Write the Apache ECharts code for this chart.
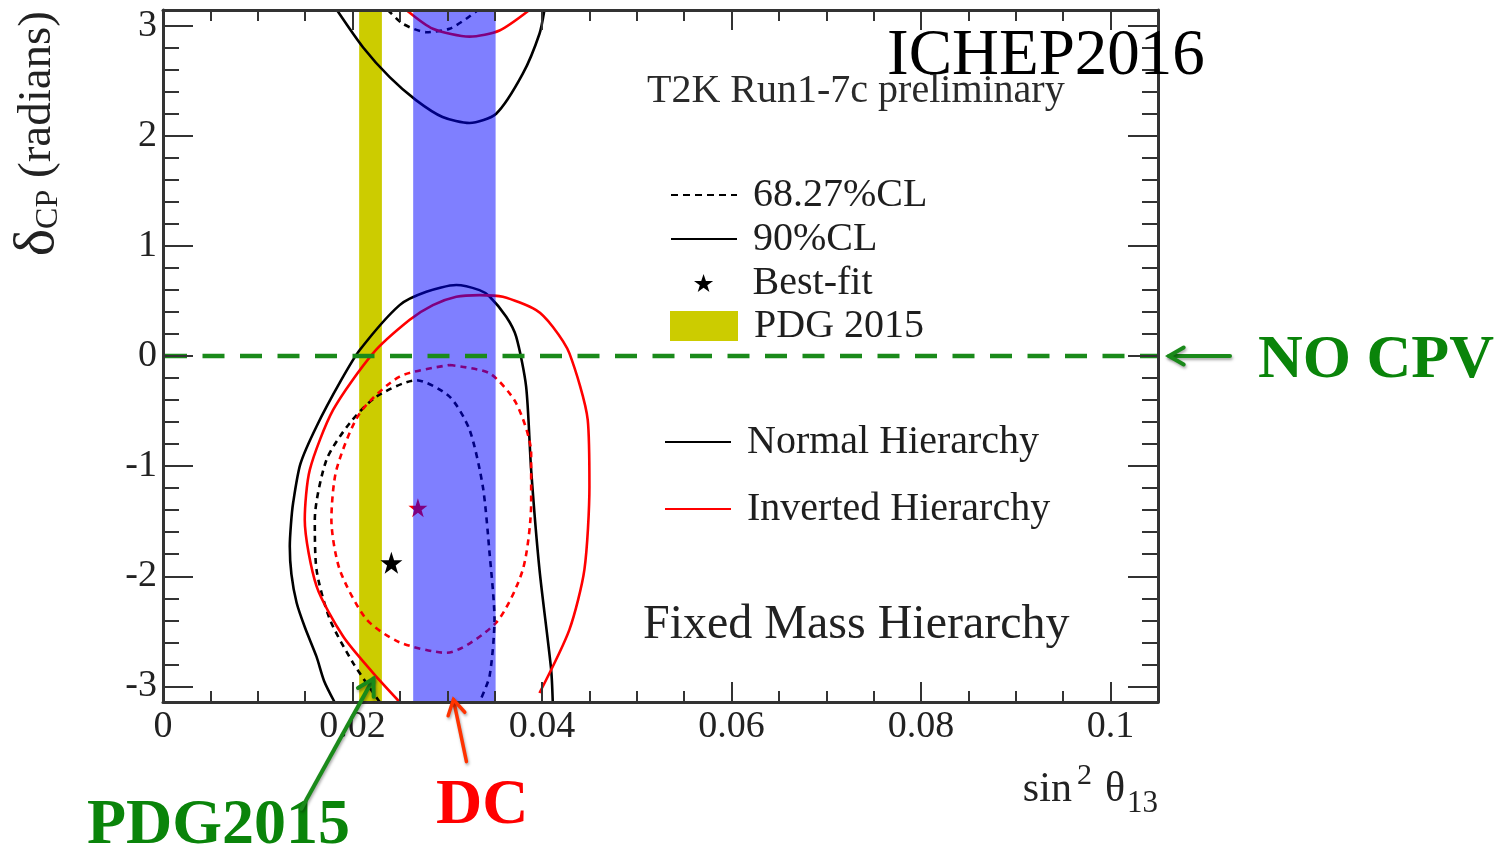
<!DOCTYPE html>
<html>
<head>
<meta charset="utf-8">
<script src="https://cdn.jsdelivr.net/npm/echarts@6/dist/echarts.min.js"></script>
<style>
  html, body { margin: 0; padding: 0; background: #ffffff; }
  #chart { width: 1511px; height: 850px; }
</style>
</head>
<body>
<div id="chart"></div>
<script>
// T2K Run1-7c: delta_CP versus sin^2(theta13), fixed mass hierarchy contours

const X_MIN = 0, X_MAX = 0.105;
const Y_MIN = -Math.PI, Y_MAX = Math.PI;

const xTickValues = [0, 0.02, 0.04, 0.06, 0.08, 0.1];
const yTickValues = [-3, -2, -1, 0, 1, 2, 3];

// Normal hierarchy, 90% CL (solid black); the upper piece wraps around delta_CP = +-pi
const nh90Lower = [
  [0.0181, -3.1416], [0.0170, -2.95], [0.0162, -2.73], [0.0150, -2.47], [0.0141, -2.24],
  [0.01355, -1.98], [0.01338, -1.73], [0.01350, -1.53], [0.01373, -1.335], [0.01450, -0.98],
  [0.0162, -0.64], [0.0188, -0.22], [0.02076, 0.054], [0.02497, 0.462], [0.02779, 0.583],
  [0.03095, 0.644], [0.0334, 0.598], [0.03446, 0.54], [0.03622, 0.356], [0.03727, 0.175],
  [0.03832, -0.278], [0.03885, -1.034], [0.03973, -1.94], [0.04096, -2.847], [0.04113, -3.1416]
];
const nh90Upper = [
  [0.01835, 3.1416], [0.0211, 2.804], [0.02392, 2.532], [0.02673, 2.321], [0.0295, 2.17],
  [0.03235, 2.115], [0.03516, 2.2], [0.03797, 2.563], [0.03973, 2.926], [0.04025, 3.1416]
];

// Normal hierarchy, 68.27% CL (dashed black)
const nh68Lower = [
  [0.02287, -3.1416], [0.02005, -2.786], [0.0176, -2.39], [0.0162, -1.94], [0.01602, -1.487],
  [0.01725, -0.943], [0.0197, -0.61], [0.02252, -0.369], [0.02673, -0.22], [0.03024, -0.369],
  [0.03235, -0.67], [0.03375, -1.185], [0.03446, -1.789], [0.03498, -2.39], [0.03446, -2.907],
  [0.0334, -3.1416]
];
const nh68Upper = [
  [0.02374, 3.1416], [0.02532, 3.016], [0.02779, 2.94], [0.03024, 2.971], [0.032, 3.062],
  [0.03323, 3.1416]
];

// Inverted hierarchy, 90% CL (solid red)
const ih90Lower = [
  [0.02497, -3.1416], [0.02216, -2.877], [0.019, -2.545], [0.0162, -2.09], [0.01496, -1.487],
  [0.01549, -1.034], [0.01795, -0.49], [0.02216, 0.024], [0.026, 0.326], [0.02848, 0.462],
  [0.03095, 0.538], [0.0334, 0.553], [0.03586, 0.538], [0.03938, 0.417], [0.04113, 0.266],
  [0.04289, 0.024], [0.04482, -0.58], [0.045, -1.185], [0.04447, -1.94], [0.04289, -2.484],
  [0.03973, -3.06]
];
const ih90Upper = [
  [0.02568, 3.1416], [0.02848, 2.971], [0.03235, 2.9], [0.03551, 2.956], [0.03867, 3.1416]
];

// Inverted hierarchy, 68.27% CL (dashed red, closed)
const ih68 = [
  [0.03024, -0.082], [0.03446, -0.157], [0.03727, -0.429], [0.03885, -0.882], [0.03885, -1.335],
  [0.03797, -1.94], [0.03516, -2.42], [0.0299, -2.695], [0.02497, -2.6], [0.02146, -2.39],
  [0.01865, -1.94], [0.01777, -1.487], [0.0183, -1.034], [0.02076, -0.52], [0.02497, -0.187],
  [0.03024, -0.082]
];

// Best-fit points
const nhBestFit = [[0.0241, -1.878]];
const ihBestFit = [[0.0269, -1.378]];

// Reactor constraints on sin^2(theta13)
const pdg2015Band = [0.0207, 0.0231];
const dcBand = [0.0264, 0.0351];

// CP-conserving reference
const noCpvLevel = 0;

const SERIF = "'Liberation Serif', 'DejaVu Serif', serif";
const STAR = 'path://M50,0 L61.8,35.1 L98.1,35.1 L68.8,56.7 L79.4,90.5 L50,69.1 L20.6,90.5 L31.2,56.7 L1.9,35.1 L38.2,35.1 Z';
const GREEN = '#0a840a';

function minorValues(lo, hi, step) {
  const out = [];
  const n = Math.round((hi - lo) / step);
  for (let i = 0; i <= n; i++) out.push(+(lo + i * step).toFixed(6));
  return out;
}
const xMinorTicks = minorValues(0, 0.105, 0.005);
const yMinorTicks = minorValues(-3, 3, 0.2);

const tickLine = { color: '#333', width: 2 };
const frameLine = { color: '#333', width: 3 };
const labelFont = { fontFamily: SERIF, fontSize: 38, color: '#222' };

function makeAxis(position, ticks, len, withLabels, withLine, extra) {
  const a = {
    type: 'value', position, z: 10,
    splitLine: { show: false },
    axisLine: { show: withLine, onZero: false, lineStyle: frameLine },
    axisTick: { show: true, inside: true, length: len, customValues: ticks, lineStyle: tickLine },
    axisLabel: withLabels ? Object.assign({ show: true, customValues: ticks }, labelFont) : { show: false }
  };
  return Object.assign(a, extra);
}

const xRange = { min: X_MIN, max: X_MAX };
const yRange = { min: Y_MIN, max: Y_MAX };

const xAxes = [
  makeAxis('bottom', xTickValues, 20, true, true, Object.assign({
    name: '{a|sin}{sup|2}{a|θ}{sub|13}',
    nameLocation: 'end', nameGap: 0,
    nameTextStyle: {
      align: 'right', verticalAlign: 'top', padding: [59, 0, 0, 0],
      fontFamily: SERIF, fontSize: 40, color: '#222',
      rich: {
        a: { fontFamily: SERIF, fontSize: 42, color: '#222', lineHeight: 58 },
        sup: { fontFamily: SERIF, fontSize: 30, color: '#222', verticalAlign: 'top', lineHeight: 28, padding: [0, 13, 0, 5] },
        sub: { fontFamily: SERIF, fontSize: 31, color: '#222', verticalAlign: 'bottom', lineHeight: 30, padding: [0, 0, 0, 2] }
      }
    },
    axisLabel: Object.assign({ show: true, customValues: xTickValues, margin: 6 }, labelFont)
  }, xRange)),
  makeAxis('bottom', xMinorTicks, 11, false, false, Object.assign({}, xRange)),
  makeAxis('top', xTickValues, 20, false, true, Object.assign({}, xRange)),
  makeAxis('top', xMinorTicks, 11, false, false, Object.assign({}, xRange))
];

const yAxes = [
  makeAxis('left', yTickValues, 30, true, true, Object.assign({
    name: '{d|δ}{s|CP}{r| (radians)}',
    nameLocation: 'end', nameGap: -1, nameRotate: 90,
    nameTextStyle: {
      align: 'right', verticalAlign: 'bottom', padding: [0, 0, 98, 0],
      fontFamily: SERIF, fontSize: 47, color: '#222',
      rich: {
        d: { fontFamily: SERIF, fontSize: 58, color: '#222', lineHeight: 54 },
        r: { fontFamily: SERIF, fontSize: 47, color: '#222', lineHeight: 54 },
        s: { fontFamily: SERIF, fontSize: 32, color: '#222', verticalAlign: 'bottom', lineHeight: 32, padding: [0, 0, 0, 0] }
      }
    },
    axisLabel: Object.assign({ show: true, customValues: yTickValues, margin: 6 }, labelFont)
  }, yRange)),
  makeAxis('left', yMinorTicks, 16, false, false, Object.assign({}, yRange)),
  makeAxis('right', yTickValues, 30, false, true, Object.assign({}, yRange)),
  makeAxis('right', yMinorTicks, 16, false, false, Object.assign({}, yRange))
];

function contour(name, data, color, dashed) {
  return {
    name, type: 'line', data, z: 3, silent: true,
    symbol: 'none', showSymbol: false, smooth: 0.25, clip: true,
    lineStyle: { color, width: 2.6, type: dashed ? [6, 5] : 'solid' },
    itemStyle: { color }
  };
}

function legendOnly(name, color, dashed) {
  return {
    name, type: 'line', data: [], symbol: 'none', showSymbol: false,
    lineStyle: { color, width: 2.5, type: dashed ? [7, 5] : 'solid' },
    itemStyle: { color }
  };
}

const series = [
  {
    name: 'PDG 2015', type: 'line', data: [], z: 1, silent: true,
    itemStyle: { color: '#cccc00' },
    markArea: {
      silent: true, z: 1,
      itemStyle: { color: '#cccc00', opacity: 1 },
      data: [[{ xAxis: pdg2015Band[0] }, { xAxis: pdg2015Band[1] }]]
    }
  },
  contour('NH 90% lower', nh90Lower, '#000000', false),
  contour('NH 90% upper', nh90Upper, '#000000', false),
  contour('NH 68% lower', nh68Lower, '#000000', true),
  contour('NH 68% upper', nh68Upper, '#000000', true),
  contour('IH 90% lower', ih90Lower, '#ff0000', false),
  contour('IH 90% upper', ih90Upper, '#ff0000', false),
  contour('IH 68%', ih68, '#ff0000', true),
  {
    name: 'NH best fit', type: 'scatter', data: nhBestFit, z: 4, silent: true,
    symbol: STAR, symbolSize: 22, itemStyle: { color: '#000000', opacity: 1 }
  },
  {
    name: 'IH best fit', type: 'scatter', data: ihBestFit, z: 4, silent: true,
    symbol: STAR, symbolSize: 19, itemStyle: { color: '#ff0000', opacity: 1 }
  },
  {
    name: 'Double Chooz', type: 'line', data: [], z: 5, silent: true,
    markArea: {
      silent: true, z: 5,
      itemStyle: { color: 'rgba(0,0,255,0.5)' },
      data: [[{ xAxis: dcBand[0] }, { xAxis: dcBand[1] }]]
    }
  },
  {
    name: 'No CPV', type: 'line', z: 6, silent: true, symbol: 'none', showSymbol: false,
    data: [[X_MIN, noCpvLevel], [X_MAX, noCpvLevel]],
    lineStyle: { color: '#1a8a1a', width: 4.5, type: [22, 15.5], dashOffset: -2 }
  },
  legendOnly('68.27%CL', '#000000', true),
  legendOnly('90%CL', '#000000', false),
  {
    name: 'Best-fit', type: 'scatter', data: [], symbol: STAR,
    itemStyle: { color: '#000000', opacity: 1 }
  },
  legendOnly('Normal Hierarchy', '#000000', false),
  legendOnly('Inverted Hierarchy', '#ff0000', false)
];

const legendText = { fontFamily: SERIF, fontSize: 40, color: '#1e1e1e', lineHeight: 44, padding: [0, 0, 0, 11] };
function legendBlock(data, left, top, extra) {
  return Object.assign({
    show: true, orient: 'vertical', left, top, padding: 0, itemGap: 0,
    itemWidth: 66, itemHeight: 20, selectedMode: false,
    textStyle: legendText, data
  }, extra);
}
const hideSymbol = { itemStyle: { opacity: 0 } };

const option = {
  animation: false,
  backgroundColor: '#ffffff',
  grid: { left: 163, top: 10, width: 995, height: 692, show: false },
  xAxis: xAxes,
  yAxis: yAxes,
  legend: [
    legendBlock(['68.27%CL', '90%CL'], 670, 173, hideSymbol),
    legendBlock(['Best-fit'], 694, 261, { itemHeight: 18 }),
    legendBlock([{ name: 'PDG 2015', icon: 'rect' }], 670, 304, { itemWidth: 68, itemHeight: 30 }),
    legendBlock(['Normal Hierarchy', 'Inverted Hierarchy'], 664, 420, Object.assign({ itemGap: 23 }, hideSymbol))
  ],
  series
};

const chart = echarts.init(document.getElementById('chart'), null, { renderer: 'canvas' });
chart.setOption(option);

// Annotation texts and arrows, anchored through the chart's coordinate system
function arrow(tail, tip, color, width, arm) {
  const dx = tip[0] - tail[0], dy = tip[1] - tail[1];
  const len = Math.hypot(dx, dy);
  const ux = dx / len, uy = dy / len;
  const ang = Math.PI / 6;
  const c = Math.cos(ang), s = Math.sin(ang);
  const a1 = [tip[0] - arm * (ux * c - uy * s), tip[1] - arm * (uy * c + ux * s)];
  const a2 = [tip[0] - arm * (ux * c + uy * s), tip[1] - arm * (uy * c - ux * s)];
  const shadow = { shadowBlur: 3, shadowColor: 'rgba(0,0,0,0.35)', shadowOffsetX: 1, shadowOffsetY: 2 };
  return [
    { type: 'line', z: 20, silent: true, shape: { x1: tail[0], y1: tail[1], x2: tip[0], y2: tip[1] },
      style: Object.assign({ stroke: color, lineWidth: width, lineCap: 'round' }, shadow) },
    { type: 'polyline', z: 20, silent: true, shape: { points: [a1, tip, a2] },
      style: Object.assign({ stroke: color, lineWidth: width, lineCap: 'round', lineJoin: 'miter', fill: null }, shadow) }
  ];
}

function label(text, x, y, size, color, weight) {
  return {
    type: 'text', x, y, z: 20, silent: true,
    style: {
      text, fill: color, align: 'left', verticalAlign: 'middle',
      font: (weight || 'normal') + ' ' + size + 'px ' + SERIF
    }
  };
}

const pNoCpv = chart.convertToPixel({ gridIndex: 0 }, [X_MAX, noCpvLevel]);
const pPdg = chart.convertToPixel({ gridIndex: 0 }, [(pdg2015Band[0] + pdg2015Band[1]) / 2 + 0.0003, -2.93]);
const pDc = chart.convertToPixel({ gridIndex: 0 }, [(dcBand[0] + dcBand[1]) / 2 - 0.0001, -3.12]);

const graphics = [
  label('ICHEP2016', 887, 57, 65, '#000000'),
  label('T2K Run1-7c preliminary', 647, 91, 40, '#2a2a2a'),
  label('Fixed Mass Hierarchy', 643, 625, 48, '#222222'),
  label('NO CPV', pNoCpv[0] + 100, pNoCpv[1] + 5, 62, GREEN, 'bold'),
  label('PDG2015', 87, 826, 64, GREEN, 'bold'),
  label('DC', 436, 806, 64, '#ff0000', 'bold')
].concat(
  arrow([pNoCpv[0] + 72, pNoCpv[1]], [pNoCpv[0] + 11, pNoCpv[1]], '#1a8a1a', 4, 17),
  arrow([pPdg[0] - 72, pPdg[1] + 130], pPdg, '#1a8a1a', 4, 18),
  arrow([pDc[0] + 13, pDc[1] + 62], pDc, '#ff3300', 3.5, 17)
);

chart.setOption({ graphic: graphics });
</script>
</body>
</html>
